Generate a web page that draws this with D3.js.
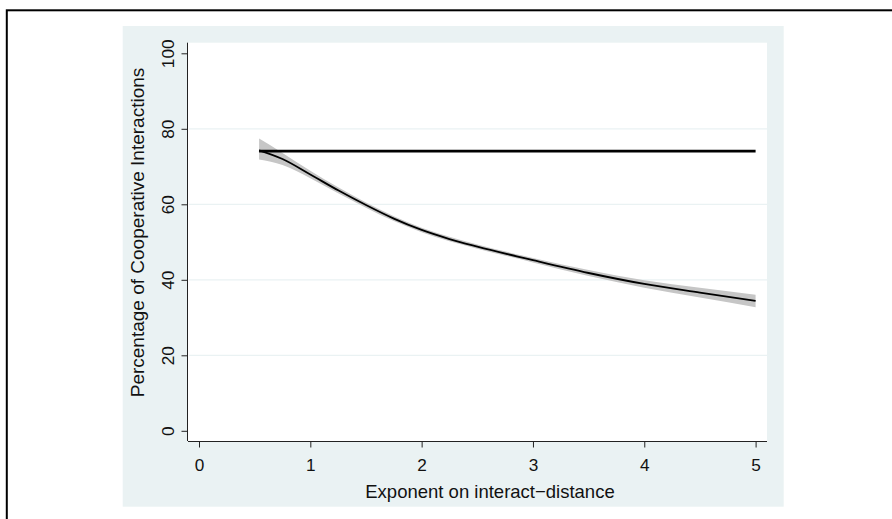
<!DOCTYPE html>
<html>
<head>
<meta charset="utf-8">
<script src="https://cdn.jsdelivr.net/npm/d3@7"></script>
<style>
  body { margin: 0; background: #fff; }
  text { font-family: "Liberation Sans", Arial, sans-serif; fill: #111; }
</style>
</head>
<body>
<div id="chart"></div>
<script>
// fitted curve (exponent on interact-distance vs % cooperative)
const expo   = [0.54, 0.75, 1.0, 1.25, 1.5, 1.75, 2.0, 2.25, 2.5, 3.0, 3.5, 4.0, 4.5, 5.0]
const fitMid = [74.3, 72.0, 67.9, 63.7, 59.8, 56.2, 53.2, 50.8, 48.8, 45.2, 41.8, 38.9, 36.6, 34.4]
const fitLo  = [71.9, 70.4, 66.9, 62.9, 59.1, 55.55, 52.6, 50.2, 48.25, 44.6, 41.0, 37.9, 35.3, 32.75]
const fitHi  = [77.4, 73.6, 68.9, 64.5, 60.5, 56.85, 53.8, 51.4, 49.35, 45.8, 42.6, 39.9, 37.9, 36.05]

// flat reference line
const flatX = [0.54, 5.0]
const flatY = [74.1, 74.1]

const xTicks = [0, 1, 2, 3, 4, 5]
const yTicks = [0, 20, 40, 60, 80, 100]
const gridVals = [20, 40, 60, 80]

const W = 892, H = 519
const plot = {left: 188, right: 767, top: 42.7, bottom: 441}

const svg = d3.select('#chart').append('svg')
  .attr('width', W)
  .attr('height', H)

// outer frame (runs off the bottom/right of the picture)
svg.append('rect')
  .attr('x', 6.8).attr('y', 10.3)
  .attr('width', 1000).attr('height', 1000)
  .attr('fill', 'none')
  .attr('stroke', '#000')
  .attr('stroke-width', 2)

// graph region background
svg.append('rect')
  .attr('x', 122.7).attr('y', 26)
  .attr('width', 783.7 - 122.7).attr('height', 506.7 - 26)
  .attr('fill', '#eaf2f3')

// plot region
svg.append('rect')
  .attr('x', plot.left).attr('y', plot.top)
  .attr('width', plot.right - plot.left).attr('height', plot.bottom - plot.top)
  .attr('fill', '#fff')

const x = d3.scaleLinear().domain([0, 5]).range([199, 755.6])
const y = d3.scaleLinear().domain([0, 100]).range([430.8, 53.3])

// grid
svg.append('g').selectAll('line').data(gridVals).join('line')
  .attr('x1', plot.left + 1).attr('x2', plot.right)
  .attr('y1', d => y(d)).attr('y2', d => y(d))
  .attr('stroke', '#eaf2f3')
  .attr('stroke-width', 1.2)

const fit = expo.map((e, i) => ({x: e, m: fitMid[i], lo: fitLo[i], hi: fitHi[i]}))

// confidence band
svg.append('path')
  .datum(fit)
  .attr('d', d3.area()
    .x(d => x(d.x))
    .y0(d => y(d.lo))
    .y1(d => y(d.hi))
    .curve(d3.curveMonotoneX))
  .attr('fill', '#c6c6c6')

// fitted line
svg.append('path')
  .datum(fit)
  .attr('d', d3.line()
    .x(d => x(d.x))
    .y(d => y(d.m))
    .curve(d3.curveMonotoneX))
  .attr('fill', 'none')
  .attr('stroke', '#000')
  .attr('stroke-width', 1.8)

// flat line
svg.append('path')
  .datum(flatX.map((v, i) => [v, flatY[i]]))
  .attr('d', d3.line().x(d => x(d[0])).y(d => y(d[1])))
  .attr('fill', 'none')
  .attr('stroke', '#000')
  .attr('stroke-width', 2.8)

// x axis
const xAxis = svg.append('g')
  .attr('transform', `translate(0,${plot.bottom})`)
  .call(d3.axisBottom(x).tickValues(xTicks).tickSize(6.5).tickPadding(4).tickFormat(d3.format('d')))
xAxis.select('.domain').attr('d', `M${plot.left},0.5H${plot.right}`).attr('stroke', '#222')
xAxis.selectAll('.tick line').attr('stroke', '#222')
xAxis.selectAll('.tick text')
  .attr('dy', null).attr('y', 30)
  .style('font-size', '17.2px')

// y axis
const yAxis = svg.append('g')
  .attr('transform', `translate(${plot.left},0)`)
  .call(d3.axisLeft(y).tickValues(yTicks).tickSize(6.5).tickFormat(d3.format('d')))
yAxis.select('.domain').attr('d', `M-0.5,${plot.top}V${plot.bottom}`).attr('stroke', '#222')
yAxis.selectAll('.tick line').attr('stroke', '#222')
yAxis.selectAll('.tick text')
  .attr('x', null).attr('dy', null)
  .attr('text-anchor', 'middle')
  .attr('transform', 'translate(-14,0) rotate(-90)')
  .style('font-size', '17.2px')

// axis titles
svg.append('text')
  .attr('x', 490).attr('y', 498)
  .attr('text-anchor', 'middle')
  .style('font-size', '18.5px')
  .text('Exponent on interact\u2212distance')

svg.append('text')
  .attr('transform', 'translate(143.5,232.5) rotate(-90)')
  .attr('text-anchor', 'middle')
  .style('font-size', '19px')
  .text('Percentage of Cooperative Interactions')
</script>
</body>
</html>
